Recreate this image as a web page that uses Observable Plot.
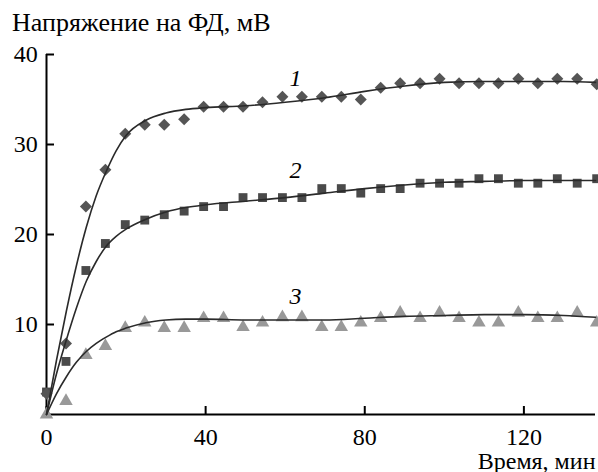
<!DOCTYPE html>
<html><head><meta charset="utf-8">
<script src="https://cdn.jsdelivr.net/npm/d3@7"></script>
<script src="https://cdn.jsdelivr.net/npm/@observablehq/plot@0.6"></script>
<style>
body{margin:0;background:#fff}
#title{height:40px;box-sizing:border-box;padding:10px 0 0 12px;font-size:26px;line-height:26px;font-family:'Liberation Serif','Times New Roman',Tinos,'DejaVu Serif',serif;color:#000;white-space:nowrap}
</style></head><body>
<div id="title">Напряжение на ФД, мВ</div>
<div id="chart"></div>
<script>
const time = [0,4.9,9.9,14.8,19.8,24.7,29.6,34.6,39.5,44.5,49.4,54.3,59.3,64.2,69.2,74.1,79.0,84.0,88.9,93.9,98.8,103.7,108.7,113.6,118.6,123.5,128.4,133.4,138.3];
const series1 = [2.3,7.9,23.1,27.2,31.2,32.2,32.2,32.8,34.2,34.2,34.2,34.7,35.3,35.3,35.3,35.3,35.0,36.3,36.8,36.8,37.3,36.8,36.8,36.8,37.3,36.8,37.3,37.3,36.7];
const series2 = [2.5,5.9,16.0,19.0,21.1,21.6,22.2,22.6,23.1,23.1,24.1,24.1,24.1,24.1,25.1,25.1,24.6,25.1,25.1,25.7,25.7,25.7,26.2,26.2,25.7,25.7,26.2,25.7,26.2];
const series3 = [0,1.5,6.6,7.6,9.6,10.2,9.6,9.6,10.7,10.7,9.7,10.2,10.8,10.8,9.7,9.7,10.2,10.7,11.3,10.7,11.3,10.7,10.2,10.2,11.3,10.7,10.7,11.3,10.2];

const fitTime = [0,2.5,5,7.5,10,12.5,15,17.5,20,25,30,35,40,50,60,70,80,90,100,110,120,130,138];
const fit1 = [0,6,11.5,16.5,20.8,24.3,27.0,29.3,31.0,32.7,33.5,33.9,34.1,34.3,34.7,35.2,35.9,36.5,36.9,37.0,37.0,37.0,36.9];
const fit2 = [0,4.5,8.3,11.8,14.8,17,18.7,19.8,20.6,21.7,22.5,23.0,23.3,23.7,24.1,24.6,25.1,25.5,25.8,25.9,26.0,26.0,26.0];
const fit3 = [0,2.3,4.2,5.8,7.0,7.9,8.6,9.2,9.6,10.2,10.5,10.6,10.6,10.5,10.5,10.5,10.7,10.9,11.0,11.1,11.1,11.0,10.8];

const labelText = ["1","2","3"];
const labelX = [62.6,62.6,62.6];
const labelY = [37.4,27.1,13.1];

const xTicks = [0,40,80,120];
const yTicks = [10,20,30,40];
const xLabel = "Время, мин";

const pts = (ys) => time.map((t,i) => ({t, v: ys[i]}));
const fit = (ys) => fitTime.map((t,i) => ({t, v: ys[i]}));
const labels = labelText.map((s,i) => ({s, t: labelX[i], v: labelY[i]}));

const serif = "'Liberation Serif','Times New Roman',Tinos,'DejaVu Serif',serif";

const plot = Plot.plot({
  width: 598, height: 432,
  marginTop: 14, marginBottom: 58, marginLeft: 46, marginRight: 3,
  style: {fontFamily: serif, fontSize: "24px", color: "#000", background: "#fff", overflow: "visible"},
  x: {domain: [0, 138]},
  y: {domain: [0, 40]},
  marks: [
    Plot.axisY(yTicks, {tickSize: -8, tickPadding: 16.7, strokeWidth: 2, label: null, fontSize: 24}),
    Plot.axisX(xTicks, {tickSize: -8, tickPadding: 21.4, strokeWidth: 2, label: xLabel, labelAnchor: "right", labelArrow: "none", labelOffset: 54, fontSize: 24}),
    Plot.ruleX([0], {strokeWidth: 2}),
    Plot.ruleY([0], {strokeWidth: 2}),
    Plot.dot(pts(series2), {x: "t", y: "v", symbol: "square", r: 5, fill: "#4a4a4a", stroke: "none"}),
    Plot.dot(pts(series1), {x: "t", y: "v", symbol: "diamond2", r: 5.4, fill: "#555555", stroke: "none"}),
    Plot.dot(pts(series3), {x: "t", y: "v", symbol: "triangle", r: 5, fill: "#999999", stroke: "none"}),
    Plot.line(fit(fit1), {x: "t", y: "v", curve: "monotone-x", stroke: "#2a2a2a", strokeWidth: 1.6}),
    Plot.line(fit(fit2), {x: "t", y: "v", curve: "monotone-x", stroke: "#2a2a2a", strokeWidth: 1.6}),
    Plot.line(fit(fit3), {x: "t", y: "v", curve: "monotone-x", stroke: "#2a2a2a", strokeWidth: 1.6}),
    Plot.text(labels, {x: "t", y: "v", text: "s", fontStyle: "italic", fontSize: 24, lineAnchor: "middle"})
  ]
});
document.getElementById("chart").appendChild(plot);
</script>
</body></html>
